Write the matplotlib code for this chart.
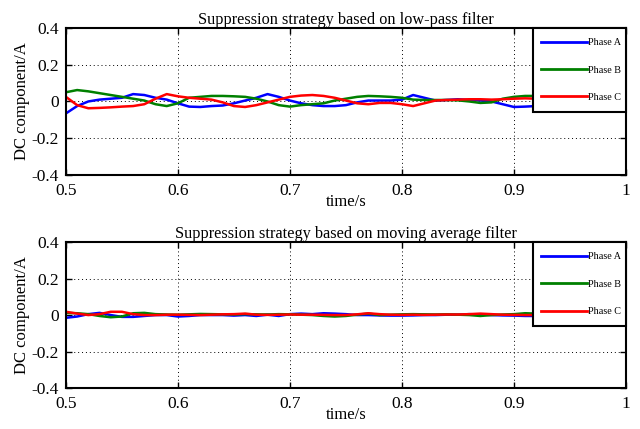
import matplotlib
matplotlib.use("Agg")
import matplotlib.pyplot as plt
from matplotlib.patches import Rectangle
import numpy as np

plt.rcParams['font.family'] = ['Liberation Serif', 'DejaVu Serif']
plt.rcParams['mathtext.fontset'] = 'stix'

# ---------------- data ----------------
t_top = [0.50, 0.51, 0.52, 0.53, 0.54, 0.55, 0.56, 0.57, 0.58, 0.59,
         0.60, 0.61, 0.62, 0.63, 0.64, 0.65, 0.66, 0.67, 0.68, 0.69,
         0.70, 0.71, 0.72, 0.73, 0.74, 0.75, 0.76, 0.77, 0.78, 0.79,
         0.80, 0.81, 0.82, 0.83, 0.84, 0.85, 0.86, 0.87, 0.88, 0.89,
         0.90, 0.91, 0.92, 0.93, 0.94, 0.95, 0.96, 0.97, 0.98, 0.99, 1.00]

lp_phase_a = [-0.065, -0.025, 0.0, 0.01, 0.015, 0.02, 0.04, 0.035, 0.02, 0.01,
              -0.01, -0.028, -0.03, -0.025, -0.022, -0.01, 0.005, 0.02, 0.04, 0.025,
              0.005, -0.01, -0.02, -0.025, -0.025, -0.02, -0.005, 0.005, 0.005, 0.005,
              0.01, 0.035, 0.02, 0.005, 0.008, 0.012, 0.008, 0.005, 0.0, -0.015,
              -0.03, -0.028, -0.025, -0.02, -0.01, 0.0, 0.005, -0.005, -0.02, -0.03, -0.035]
lp_phase_b = [0.05, 0.062, 0.055, 0.045, 0.035, 0.025, 0.015, 0.005, -0.015, -0.025,
              -0.01, 0.02, 0.025, 0.03, 0.03, 0.028, 0.025, 0.015, 0.0, -0.02,
              -0.028, -0.02, -0.015, -0.01, 0.005, 0.015, 0.025, 0.03, 0.028, 0.025,
              0.02, 0.01, 0.008, 0.008, 0.008, 0.006, 0.0, -0.008, -0.005, 0.015,
              0.025, 0.03, 0.03, 0.025, 0.015, 0.005, 0.0, 0.005, 0.01, 0.01, 0.01]
lp_phase_c = [0.025, -0.02, -0.037, -0.035, -0.032, -0.028, -0.025, -0.015, 0.015, 0.04,
              0.028, 0.02, 0.015, 0.01, -0.005, -0.025, -0.03, -0.02, -0.005, 0.01,
              0.025, 0.032, 0.035, 0.03, 0.02, 0.005, -0.01, -0.015, -0.008, -0.008,
              -0.015, -0.025, -0.01, 0.005, 0.008, 0.01, 0.012, 0.012, 0.01, 0.012,
              0.015, 0.017, 0.015, 0.01, 0.005, 0.0, 0.005, 0.01, 0.015, 0.018, 0.02]

t_bot = t_top
ma_phase_a = [-0.015, -0.008, 0.005, 0.012, 0.0, -0.01, -0.01, -0.005, 0.0, 0.0,
              -0.008, -0.005, 0.0, 0.0, 0.0, -0.003, 0.0, -0.005, 0.002, -0.005,
              0.005, 0.008, 0.005, 0.01, 0.008, 0.005, 0.0, 0.0, -0.002, -0.003,
              -0.003, -0.002, 0.0, 0.0, 0.002, 0.002, 0.005, 0.003, 0.0, -0.002,
              -0.003, -0.005, -0.005, -0.003, 0.0, 0.002, 0.0, -0.002, 0.0, 0.0, 0.0]
ma_phase_b = [0.012, 0.01, 0.005, -0.005, -0.012, -0.008, 0.01, 0.012, 0.005, 0.003,
              0.002, 0.004, 0.006, 0.005, 0.004, 0.003, 0.005, 0.004, 0.003, 0.005,
              0.004, 0.002, 0.0, -0.005, -0.008, -0.005, 0.002, 0.008, 0.0, 0.002,
              0.004, 0.005, 0.004, 0.003, 0.004, 0.002, 0.0, -0.005, 0.0, 0.003,
              0.005, 0.01, 0.008, 0.005, 0.003, 0.002, 0.004, 0.003, 0.002, 0.004, 0.003]
ma_phase_c = [0.018, 0.008, 0.0, 0.005, 0.018, 0.018, 0.005, 0.0, 0.0, 0.002,
              0.002, 0.001, 0.0, 0.002, 0.004, 0.005, 0.008, 0.002, 0.001, 0.002,
              0.003, 0.002, 0.002, 0.001, 0.0, 0.0, 0.004, 0.01, 0.005, 0.002,
              0.001, 0.002, 0.001, 0.002, 0.003, 0.003, 0.005, 0.008, 0.005, 0.002,
              0.001, 0.0, 0.0, 0.002, 0.003, 0.004, 0.003, 0.004, 0.005, 0.004, 0.005]

series_labels = ['Phase A', 'Phase B', 'Phase C']
series_colors = ['#0000ff', '#008000', '#ff0000']
titles = ['Suppression strategy based on low-pass filter',
          'Suppression strategy based on moving average filter']
x_ticks = [0.5, 0.6, 0.7, 0.8, 0.9, 1.0]
x_ticklabels = ['0.5', '0.6', '0.7', '0.8', '0.9', '1']
y_ticks = [-0.4, -0.2, 0.0, 0.2, 0.4]
y_ticklabels = ['-0.4', '-0.2', '0', '0.2', '0.4']

# ---------------- figure ----------------
fig = plt.figure(figsize=(6.4, 4.29), dpi=100)
ax_top = fig.add_axes([0.103, 0.592, 0.875, 0.343])
ax_bot = fig.add_axes([0.103, 0.0956, 0.875, 0.340])

panels = [
    (ax_top, t_top, [lp_phase_a, lp_phase_b, lp_phase_c], titles[0]),
    (ax_bot, t_bot, [ma_phase_a, ma_phase_b, ma_phase_c], titles[1]),
]

for ax, t, ys, title in panels:
    for y, lab, col in zip(ys, series_labels, series_colors):
        ax.plot(t, y, color=col, lw=1.8, label=lab, zorder=2)
    ax.set_xlim(0.5, 1.0)
    ax.set_ylim(-0.4, 0.4)
    ax.set_xticks(x_ticks)
    ax.set_xticklabels(x_ticklabels)
    ax.set_yticks(y_ticks)
    ax.set_yticklabels(y_ticklabels)
    ax.tick_params(direction='in', top=True, right=True, labelsize=12.5,
                   length=4, width=1)
    ax.tick_params(axis='x', pad=6)
    ax.tick_params(axis='y', pad=5)
    ax.grid(True, color='black', linestyle=(0, (1, 3)), linewidth=0.7)
    for s in ax.spines.values():
        s.set_linewidth(1.5)
    ax.set_title(title, fontsize=11.7, pad=3)
    ax.set_xlabel('time/s', fontsize=12, labelpad=-4)
    ax.set_ylabel('DC component/A', fontsize=12, labelpad=1)

    # legend box (frame drawn separately for MATLAB-like asymmetric padding)
    box = Rectangle((0.834, 0.428), 0.166, 0.572, transform=ax.transAxes,
                    facecolor='white', edgecolor='black', linewidth=1.5,
                    zorder=4, clip_on=False)
    ax.add_patch(box)
    leg = ax.legend(loc='upper left', bbox_to_anchor=(0.848, 0.93),
                    borderaxespad=0, fontsize=7.3, handlelength=4.6,
                    handletextpad=0.1, labelspacing=1.8, borderpad=0,
                    frameon=False)
    leg.set_zorder(5)
    for h in leg.get_lines():
        h.set_linewidth(2)

fig.savefig('out.png', dpi=100)
